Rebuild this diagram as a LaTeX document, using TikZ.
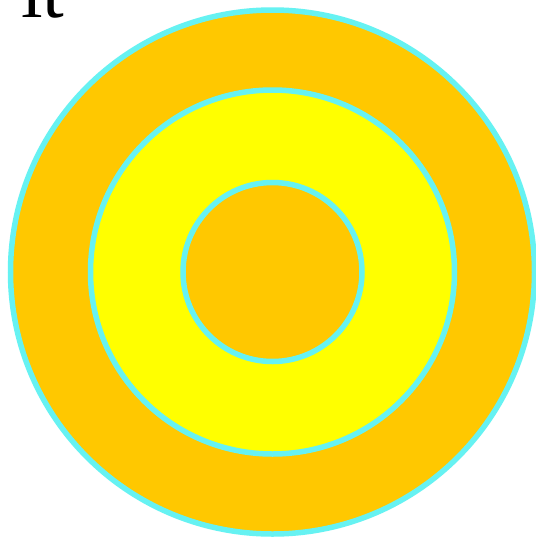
\documentclass[tikz,border=0pt]{standalone}
\usepackage{fontspec}
\setmainfont{Liberation Serif}
\usepackage{tikz}
\usetikzlibrary{positioning}

\definecolor{ringorange}{HTML}{FFC800}
\definecolor{ringyellow}{HTML}{FFFF00}
\definecolor{ringedge}{HTML}{66F2F2}

\begin{document}
\begin{tikzpicture}[x=1pt, y=-1pt]
    \clip (0,0) rectangle (536,539);
    \fill [white] (0,0) rectangle (536,539);

    \node [circle, minimum size=524pt, inner sep=0pt, fill=ringorange, draw=ringedge, line width=5.5pt] (outer) at (272.5,272) {};
    \node [circle, minimum size=364pt, inner sep=0pt, fill=ringyellow, draw=ringedge, line width=5.5pt] (middle) at (outer.center) {};
    \node [circle, minimum size=179pt, inner sep=0pt, fill=ringorange, draw=ringedge, line width=5.5pt] (inner) at (outer.center) {};

    \node [anchor=base west, inner sep=0pt, font=\fontsize{78}{78}\selectfont] (title) at (21,17) {lt};
\end{tikzpicture}
\end{document}
